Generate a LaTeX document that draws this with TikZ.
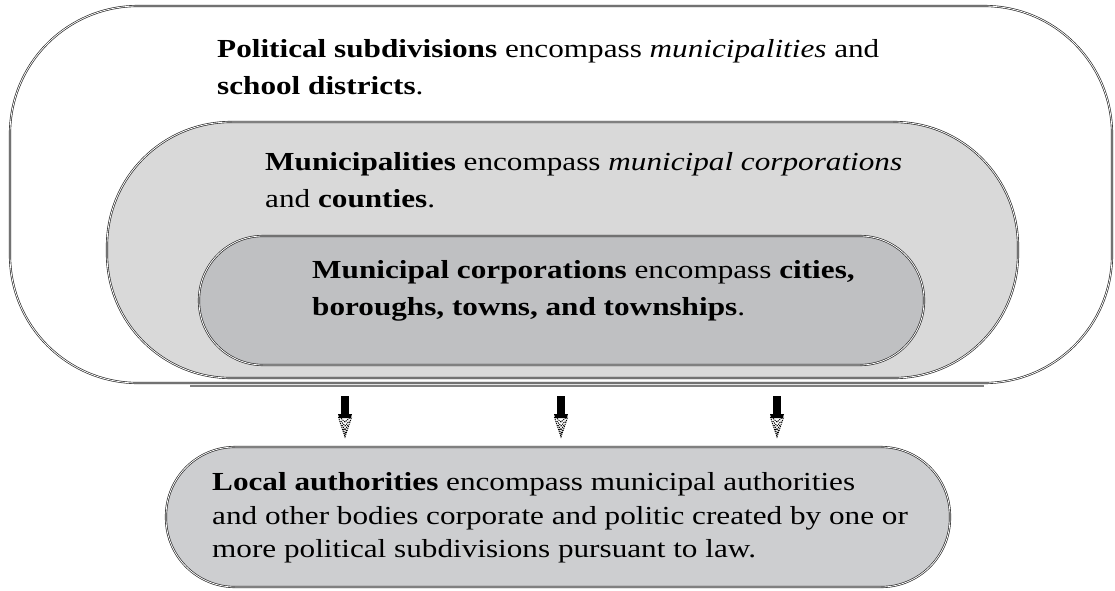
\documentclass[tikz,border=0pt]{standalone}
\usepackage{fontspec}
\setmainfont{Liberation Serif}[FakeStretch=1.2]
\usetikzlibrary{calc}
\definecolor{midgray}{HTML}{D9D9D9}
\definecolor{innergray}{HTML}{BFC0C2}
\definecolor{lowgray}{HTML}{CDCED0}
\begin{document}
\begin{tikzpicture}[x=1pt,y=-1pt,
  frame/.style={draw=black!85, double=white, double distance=0.8pt, line width=0.65pt,
                inner sep=0pt, outer sep=0pt},
  band/.style={line width=1.8pt, draw=black!50},
  txt/.style={anchor=base west, inner sep=0pt, font=\fontsize{26}{30}\selectfont},
  dith/.style={line width=0.9pt, dash pattern=on 1.2pt off 0.9pt},
]
\useasboundingbox (0,0) rectangle (1115,590);

% nested sets
\node[frame, fill=white, minimum width=1102pt, minimum height=377pt,
      rounded corners=128pt] (pol) at (561,194.5) {};
\node[frame, fill=midgray, minimum width=911pt, minimum height=256pt,
      rounded corners=124pt] (mun) at (562.5,250) {};
\node[frame, fill=innergray, minimum width=725pt, minimum height=129pt,
      rounded corners=64pt] (corp) at (561.5,300.5) {};
\node[frame, fill=lowgray, minimum width=784pt, minimum height=140pt,
      rounded corners=69pt] (loc) at (558,517) {};

% heavier grey rules along the long straight edges
\draw[band] ($(pol.south west)+(180,3)$) -- ($(pol.south east)+(-128,3)$);
\draw[band] ($(mun.north west)+(125,0)$) -- ($(mun.north east)+(-125,0)$);
\draw[band] ($(corp.south west)+(64,0)$) -- ($(corp.south east)+(-64,0)$);
\draw[band] ($(loc.north west)+(69,0)$) -- ($(loc.north east)+(-69,0)$);
\draw[band] ($(loc.south west)+(69,0)$) -- ($(loc.south east)+(-69,0)$);

% labels
\node[txt] (pol1) at (217,57) {\textbf{Political subdivisions} encompass \textit{municipalities} and};
\node[txt] (pol2) at (217,94) {\textbf{school districts}.};
\node[txt] (mun1) at (265,170) {\textbf{Municipalities} encompass \textit{municipal corporations}};
\node[txt] (mun2) at (265,207) {and \textbf{counties}.};
\node[txt] (corp1) at (312,278) {\textbf{Municipal corporations} encompass \textbf{cities,}};
\node[txt] (corp2) at (312,315) {\textbf{boroughs, towns, and townships}.};
\node[txt] (loc1) at (212,490) {\textbf{Local authorities} encompass municipal authorities};
\node[txt] (loc2) at (212,524) {and other bodies corporate and politic created by one or};
\node[txt] (loc3) at (212,557) {more political subdivisions pursuant to law.};

% block arrows from the political subdivisions to the local authorities
\foreach \i/\xx in {1/345, 2/561, 3/777} {
  \coordinate (x\i) at (\xx,0);
  \coordinate (s\i) at ($(x\i |- pol.south)+(0,13)$);
  \fill[black] (s\i) ++(-4,0) rectangle ++(8,21);
  \fill[black] (s\i) ++(-7,18) -- ++(14,0) -- ++(-1.2,4) -- ++(-11.6,0) -- cycle;
  \foreach \d in {5,9,13,17} {
    \pgfmathsetmacro\hw{7*(1-\d/23)}
    \draw[dith] ($(s\i)+(-\hw,18+\d-2)$) -- ($(s\i)+(0,18+\d+3)$) -- ($(s\i)+(\hw,18+\d-2)$);
  }
  \draw[dith] ($(s\i)+(-6.6,21)$) -- ($(s\i)+(0,41)$) -- ($(s\i)+(6.6,21)$);
}
\end{tikzpicture}
\end{document}
